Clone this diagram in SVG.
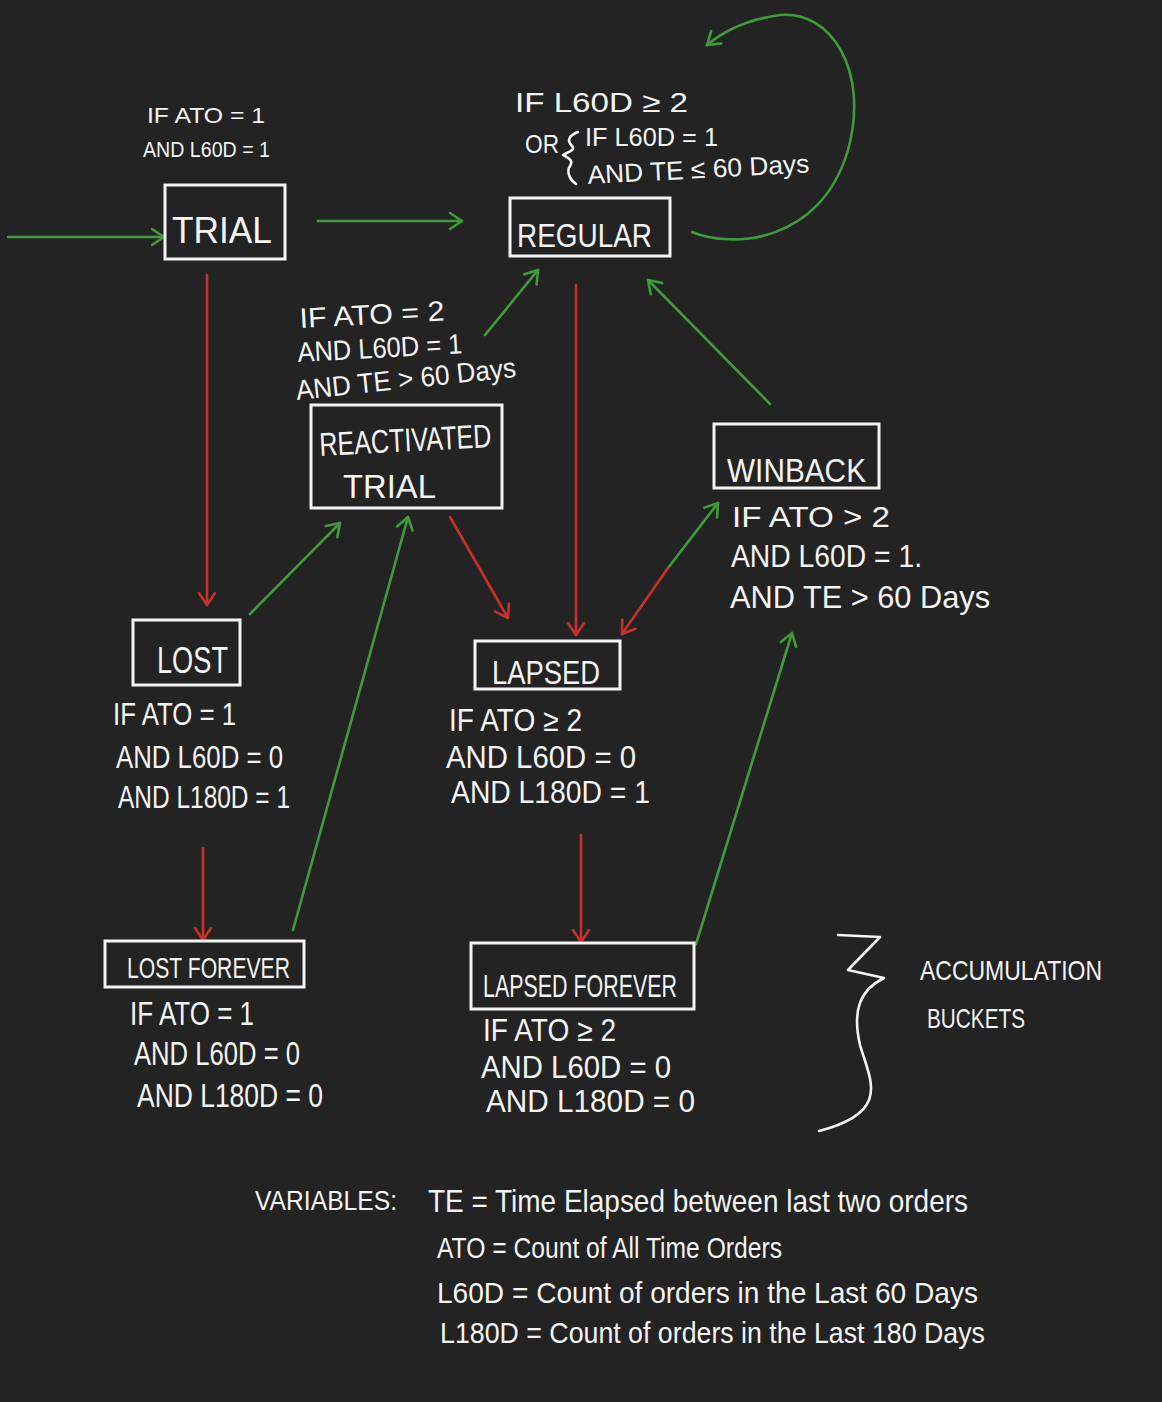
<svg xmlns="http://www.w3.org/2000/svg" width="1162" height="1402" viewBox="0 0 1162 1402">
<defs>
<style>
.bg{fill:#232323}
.box{fill:none;stroke:#f4f4f4;stroke-width:3}
.t{fill:#f4f4f4;font-family:"Liberation Sans","DejaVu Sans",sans-serif}
.lbl{font-size:31px}
.g{fill:none;stroke:#3f9c3a;stroke-width:2.6;stroke-linecap:round}
.r{fill:none;stroke:#c8312b;stroke-width:2.6;stroke-linecap:round}
.w{fill:none;stroke:#f4f4f4;stroke-width:2.6;stroke-linecap:round;stroke-linejoin:round}
</style>
<marker id="ag" viewBox="0 0 20 20" refX="18" refY="10" markerWidth="20" markerHeight="20" markerUnits="userSpaceOnUse" orient="auto">
<path d="M6,2 L18,10 L6,18" fill="none" stroke="#3f9c3a" stroke-width="2.6" stroke-linecap="round" stroke-linejoin="round"/>
</marker>
<marker id="ar" viewBox="0 0 20 20" refX="18" refY="10" markerWidth="20" markerHeight="20" markerUnits="userSpaceOnUse" orient="auto">
<path d="M6,2 L18,10 L6,18" fill="none" stroke="#c8312b" stroke-width="2.6" stroke-linecap="round" stroke-linejoin="round"/>
</marker>
</defs>
<rect class="bg" x="0" y="0" width="1162" height="1402"/>

<g id="connectors">
<line class="g" x1="8" y1="237" x2="164" y2="237" marker-end="url(#ag)"/>
<line class="g" x1="318" y1="221" x2="462" y2="221" marker-end="url(#ag)"/>
<path class="g" d="M692,232 C730,248 820,245 848,150 C870,70 830,10 780,15 C750,19 725,30 707,45" marker-end="url(#ag)"/>
<line class="r" x1="207" y1="275" x2="207" y2="605" marker-end="url(#ar)"/>
<line class="r" x1="576" y1="285" x2="576" y2="635" marker-end="url(#ar)"/>
<line class="g" x1="485" y1="335" x2="538" y2="270" marker-end="url(#ag)"/>
<line class="g" x1="770" y1="404" x2="648" y2="280" marker-end="url(#ag)"/>
<line class="g" x1="250" y1="614" x2="340" y2="523" marker-end="url(#ag)"/>
<line class="r" x1="450" y1="517" x2="508" y2="618" marker-end="url(#ar)"/>
<line class="g" x1="668" y1="568" x2="718" y2="503" marker-end="url(#ag)"/>
<line class="r" x1="668" y1="568" x2="622" y2="634" marker-end="url(#ar)"/>
<line class="r" x1="203" y1="848" x2="203" y2="940" marker-end="url(#ar)"/>
<line class="g" x1="293" y1="930" x2="408" y2="517" marker-end="url(#ag)"/>
<line class="r" x1="581" y1="835" x2="581" y2="942" marker-end="url(#ar)"/>
<line class="g" x1="696" y1="944" x2="792" y2="633" marker-end="url(#ag)"/>
</g>

<g id="trial">
<rect class="box" x="165" y="185" width="120" height="74"/>
<text class="t" x="172" y="243" font-size="36" textLength="100" lengthAdjust="spacingAndGlyphs">TRIAL</text>
</g>
<g id="trial-cond">
<text class="t" x="147" y="123" font-size="22" textLength="118" lengthAdjust="spacingAndGlyphs">IF   ATO = 1</text>
<text class="t" x="143" y="157" font-size="22" textLength="127" lengthAdjust="spacingAndGlyphs">AND  L60D = 1</text>
</g>

<g id="regular">
<rect class="box" x="510" y="198" width="160" height="58"/>
<text class="t" x="517" y="247" font-size="33" textLength="135" lengthAdjust="spacingAndGlyphs">REGULAR</text>
</g>
<g id="regular-cond">
<text class="t" x="515" y="112" font-size="28" textLength="173" lengthAdjust="spacingAndGlyphs">IF  L60D ≥ 2</text>
<text class="t" x="525" y="153" font-size="26" textLength="34" lengthAdjust="spacingAndGlyphs">OR</text>
<path class="w" d="M578,132 C570,135 566,140 572,146 C576,150 568,152 563,155 C568,158 574,160 570,166 C566,172 570,180 576,184"/>
<text class="t" x="585" y="146" font-size="26" textLength="133" lengthAdjust="spacingAndGlyphs">IF  L60D = 1</text>
<text class="t" x="588" y="184" font-size="26" textLength="222" lengthAdjust="spacingAndGlyphs" transform="rotate(-3 588 184)">AND  TE ≤ 60 Days</text>
</g>

<g id="reactivated-trial">
<rect class="box" x="311" y="405" width="191" height="103"/>
<text class="t" x="320" y="456" font-size="33" textLength="172" lengthAdjust="spacingAndGlyphs" transform="rotate(-3 320 456)">REACTIVATED</text>
<text class="t" x="343" y="498" font-size="33" textLength="93" lengthAdjust="spacingAndGlyphs">TRIAL</text>
</g>
<g id="reactivated-cond">
<text class="t" x="300" y="328" font-size="28" textLength="145" lengthAdjust="spacingAndGlyphs" transform="rotate(-3 300 328)">IF ATO = 2</text>
<text class="t" x="298" y="362" font-size="28" textLength="165" lengthAdjust="spacingAndGlyphs" transform="rotate(-3 298 362)">AND L60D = 1</text>
<text class="t" x="297" y="400" font-size="28" textLength="221" lengthAdjust="spacingAndGlyphs" transform="rotate(-6 297 400)">AND  TE &gt; 60 Days</text>
</g>

<g id="winback">
<rect class="box" x="714" y="424" width="165" height="64"/>
<text class="t" x="727" y="482" font-size="34" textLength="139" lengthAdjust="spacingAndGlyphs">WINBACK</text>
</g>
<g id="winback-cond">
<text class="t" x="732" y="527" font-size="30" textLength="158" lengthAdjust="spacingAndGlyphs">IF  ATO &gt; 2</text>
<text class="t" x="731" y="567" font-size="32" textLength="191" lengthAdjust="spacingAndGlyphs">AND L60D = 1.</text>
<text class="t" x="730" y="608" font-size="32" textLength="260" lengthAdjust="spacingAndGlyphs">AND  TE &gt; 60 Days</text>
</g>

<g id="lost">
<rect class="box" x="133" y="620" width="107" height="65"/>
<text class="t" x="157" y="673" font-size="36" textLength="71" lengthAdjust="spacingAndGlyphs">LOST</text>
</g>
<g id="lost-cond">
<text class="t lbl" x="113" y="725" textLength="123" lengthAdjust="spacingAndGlyphs">IF ATO = 1</text>
<text class="t lbl" x="116" y="768" textLength="167" lengthAdjust="spacingAndGlyphs">AND L60D = 0</text>
<text class="t lbl" x="118" y="808" textLength="172" lengthAdjust="spacingAndGlyphs">AND L180D = 1</text>
</g>

<g id="lapsed">
<rect class="box" x="475" y="641" width="145" height="48"/>
<text class="t" x="492" y="684" font-size="34" textLength="108" lengthAdjust="spacingAndGlyphs">LAPSED</text>
</g>
<g id="lapsed-cond">
<text class="t lbl" x="449" y="731" textLength="133" lengthAdjust="spacingAndGlyphs">IF ATO ≥ 2</text>
<text class="t lbl" x="446" y="768" textLength="190" lengthAdjust="spacingAndGlyphs">AND L60D = 0</text>
<text class="t lbl" x="451" y="803" textLength="199" lengthAdjust="spacingAndGlyphs">AND L180D = 1</text>
</g>

<g id="lost-forever">
<rect class="box" x="105" y="941" width="199" height="46"/>
<text class="t" x="127" y="978" font-size="29" textLength="163" lengthAdjust="spacingAndGlyphs">LOST FOREVER</text>
</g>
<g id="lost-forever-cond">
<text class="t" x="130" y="1025" font-size="33" textLength="124" lengthAdjust="spacingAndGlyphs">IF ATO = 1</text>
<text class="t" x="134" y="1065" font-size="33" textLength="166" lengthAdjust="spacingAndGlyphs">AND L60D = 0</text>
<text class="t" x="137" y="1107" font-size="33" textLength="186" lengthAdjust="spacingAndGlyphs">AND L180D = 0</text>
</g>

<g id="lapsed-forever">
<rect class="box" x="471" y="943" width="223" height="66"/>
<text class="t" x="483" y="997" font-size="32" textLength="194" lengthAdjust="spacingAndGlyphs">LAPSED FOREVER</text>
</g>
<g id="lapsed-forever-cond">
<text class="t lbl" x="483" y="1041" textLength="133" lengthAdjust="spacingAndGlyphs">IF ATO ≥ 2</text>
<text class="t lbl" x="481" y="1078" textLength="190" lengthAdjust="spacingAndGlyphs">AND L60D = 0</text>
<text class="t lbl" x="486" y="1112" textLength="209" lengthAdjust="spacingAndGlyphs">AND L180D = 0</text>
</g>

<g id="accumulation-buckets">
<path class="w" d="M838,935 L880,937 L848,970 L884,978 C860,990 852,1010 860,1045 C870,1080 892,1112 819,1131"/>
<text class="t" x="920" y="980" font-size="28" textLength="182" lengthAdjust="spacingAndGlyphs">ACCUMULATION</text>
<text class="t" x="927" y="1028" font-size="28" textLength="98" lengthAdjust="spacingAndGlyphs">BUCKETS</text>
</g>

<g id="variables">
<text class="t" x="255" y="1210" font-size="28" textLength="142" lengthAdjust="spacingAndGlyphs">VARIABLES:</text>
<text class="t" x="428" y="1212" font-size="32" textLength="540" lengthAdjust="spacingAndGlyphs">TE = Time Elapsed between last two orders</text>
<text class="t" x="437" y="1258" font-size="30" textLength="345" lengthAdjust="spacingAndGlyphs">ATO = Count of All Time Orders</text>
<text class="t" x="437" y="1303" font-size="30" textLength="541" lengthAdjust="spacingAndGlyphs">L60D = Count of orders in the Last 60 Days</text>
<text class="t" x="440" y="1343" font-size="30" textLength="545" lengthAdjust="spacingAndGlyphs">L180D = Count of orders in the Last 180 Days</text>
</g>
</svg>
